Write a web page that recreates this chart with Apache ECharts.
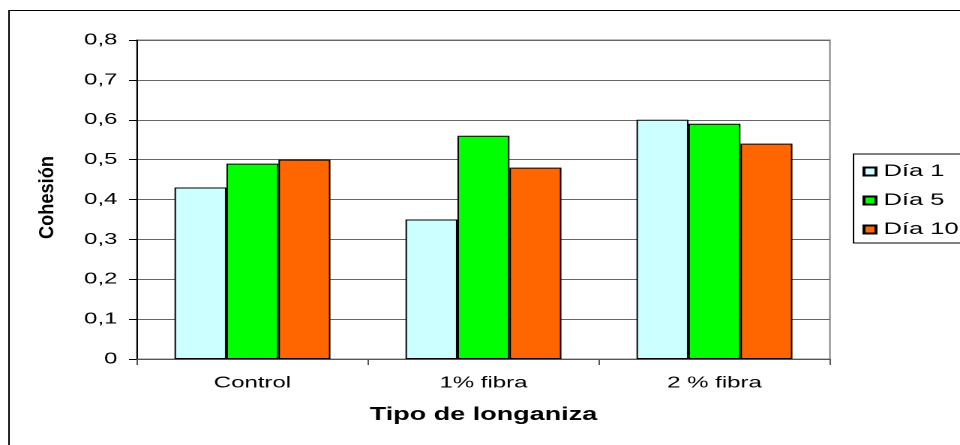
<!DOCTYPE html>
<html>
<head>
<meta charset="utf-8">
<script src="https://cdn.jsdelivr.net/npm/echarts@6/dist/echarts.min.js"></script>
<style>
  html, body { margin: 0; padding: 0; background: #fff; overflow: hidden; }
  #wrap { width: 960px; height: 445px; overflow: hidden; }
  /* the chart is laid out on a narrower canvas and widened, as in the printed figure */
  #chart { width: 640px; height: 445px; transform: scaleX(1.5); transform-origin: 0 0; }
</style>
</head>
<body>
<div id="wrap"><div id="chart"></div></div>
<script>
const categories = ['Control', '1% fibra', '2 % fibra'];
const dia1 = [0.43, 0.35, 0.60];
const dia5 = [0.49, 0.56, 0.59];
const dia10 = [0.50, 0.48, 0.54];
const seriesNames = ['Día 1', 'Día 5', 'Día 10'];
const seriesColors = ['#CCFFFF', '#00FF00', '#FF6600'];

const FONT = '"Liberation Sans", Arial, sans-serif';

const chart = echarts.init(document.getElementById('chart'), null, { renderer: 'canvas', devicePixelRatio: 2 });

const values = [dia1, dia5, dia10];

chart.setOption({
  animation: false,
  backgroundColor: '#ffffff',
  textStyle: { fontFamily: FONT, color: '#000' },
  graphic: [
    {
      type: 'rect',
      shape: { x: 6, y: 10.5, width: 800, height: 600 },
      style: { fill: 'none', stroke: '#000', lineWidth: 1 },
      silent: true,
      z: 0
    },
    {
      type: 'text',
      x: 31.5,
      y: 197.5,
      rotation: Math.PI / 2,
      scaleX: 1.3,
      style: {
        text: 'Cohesión',
        font: 'bold 14px ' + FONT,
        fill: '#000',
        align: 'center',
        verticalAlign: 'middle'
      },
      silent: true
    }
  ],
  grid: {
    left: 91.3,
    right: 86.7,
    top: 40,
    bottom: 86,
    show: true,
    borderColor: '#808080',
    borderWidth: 1,
    backgroundColor: '#ffffff'
  },
  legend: {
    orient: 'vertical',
    left: 569,
    top: 154,
    padding: [9, 14, 5, 6],
    borderColor: '#000',
    borderWidth: 1,
    backgroundColor: '#fff',
    icon: 'rect',
    itemWidth: 8,
    itemHeight: 8,
    itemGap: 12,
    textStyle: { fontFamily: FONT, fontSize: 17, color: '#000', lineHeight: 17 },
    data: seriesNames
  },
  xAxis: {
    type: 'category',
    data: categories,
    name: 'Tipo de longaniza',
    nameLocation: 'middle',
    nameGap: 47,
    nameTextStyle: { fontFamily: FONT, fontSize: 18, fontWeight: 'bold', color: '#000' },
    axisLine: { lineStyle: { color: '#555', width: 1 } },
    axisTick: { show: true, length: 6, lineStyle: { color: '#555' } },
    axisLabel: { fontFamily: FONT, fontSize: 16, color: '#000', margin: 16 },
    splitLine: { show: false }
  },
  yAxis: {
    type: 'value',
    min: 0,
    max: 0.8,
    interval: 0.1,
    axisLine: { show: true, lineStyle: { color: '#000', width: 1 } },
    axisTick: { show: true, length: 5.3, lineStyle: { color: '#000' } },
    axisLabel: {
      fontFamily: FONT,
      fontSize: 16,
      color: '#000',
      margin: 13,
      formatter: v => (v === 0 ? '0' : v.toFixed(1).replace('.', ','))
    },
    splitLine: { show: true, lineStyle: { color: '#666', width: 1 } }
  },
  series: seriesNames.map((name, i) => ({
    name: name,
    type: 'bar',
    data: values[i],
    barGap: '0%',
    barCategoryGap: '32.5%',
    itemStyle: { color: seriesColors[i], borderColor: '#000', borderWidth: 1 }
  }))
});
</script>
</body>
</html>
